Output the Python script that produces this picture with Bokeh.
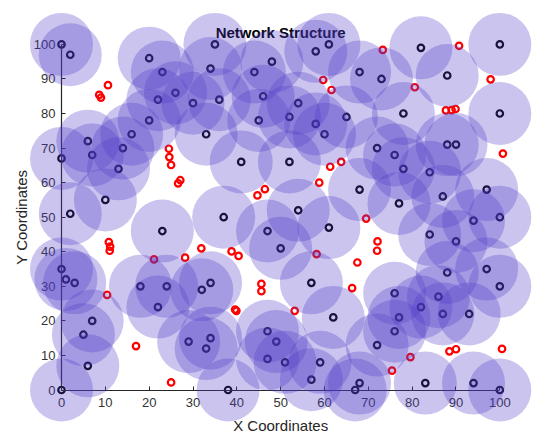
from bokeh.plotting import figure
from bokeh.models import LinearAxis, FixedTicker, Label, Range1d
from bokeh.embed import file_html
from bokeh.resources import INLINE
import math

# Anchor / sensor nodes (black) - each has a coverage circle
node_x = [0, 2, 20, 23, 35, 34, 26, 22, 30, 36, 44, 48, 46, 45, 20, 16, 33, 6, 14, 7, 0, 13, 41, 10, 2, 37,
          58, 61, 68, 73, 82, 100, 88, 54, 52, 58, 65, 60, 78, 100, 88, 90, 72, 76, 78, 84, 52, 68, 77, 87, 97, 54, 94, 100,
          23, 47, 50, 0, 1, 3, 18, 24, 22, 32, 34, 7, 5, 6, 29, 34, 33, 0, 38, 47, 49, 47,
          61, 84, 90, 88, 97, 100, 57, 76, 86, 82, 87, 93, 77, 62, 76, 72, 51, 59, 57, 68, 67, 83, 94, 100]
node_y = [100, 97, 96, 92, 100, 93, 86, 84, 83, 84, 92, 95, 85, 78, 78, 74, 74, 72, 70, 68, 67, 64, 66, 55, 51, 50,
          98, 100, 92, 90, 99, 100, 91, 83, 79, 77, 79, 74, 80, 80, 71, 71, 70, 68, 64, 63, 66, 58, 54, 56, 58, 52, 49, 50,
          46, 46, 41, 35, 32, 31, 30, 30, 24, 29, 31, 20, 16, 7, 14, 15, 12, 0, 0, 17, 14, 9,
          47, 45, 43, 34, 35, 30, 31, 28, 27, 24, 22, 22, 21, 21, 17, 13, 8, 8, 3, 2, 0, 2, 2, 0]

# Unknown nodes (red)
unknown_x = [10.6, 8.6, 9.0, 24.5, 24.6, 25.0, 27.1, 26.6, 44.7, 46.4,
             73.3, 90.7, 59.7, 61.6, 80.6, 97.9, 87.7, 89.0, 89.9, 100.7, 61.3, 63.8, 58.8, 69.5,
             10.8, 11.1, 11.0, 21.1, 28.2, 31.9, 38.8, 40.4, 10.4, 39.6, 39.9, 45.6, 45.6, 17.0, 25.0,
             72.1, 72.0, 67.5, 66.3, 58.2, 53.2, 79.6, 75.4, 88.5, 90.0, 100.5]
unknown_y = [88.2, 85.4, 84.6, 69.8, 67.4, 65.1, 60.7, 59.8, 56.3, 58.1,
             98.4, 99.6, 89.7, 86.8, 87.6, 89.9, 80.9, 81.0, 81.3, 68.4, 64.6, 66.0, 60.0, 49.6,
             42.8, 41.5, 40.3, 37.8, 38.3, 41.0, 40.1, 38.8, 27.5, 23.3, 22.9, 30.7, 28.6, 12.7, 2.2,
             43.0, 40.3, 36.9, 29.5, 39.3, 22.9, 9.5, 5.6, 11.2, 11.8, 11.9]

ticks = [0, 10, 20, 30, 40, 50, 60, 70, 80, 90, 100]

FONT = "Liberation Sans"
AX = "#262626"

p = figure(width=546, height=438, output_backend="svg", toolbar_location=None,
           x_axis_type=None, y_axis_type=None, title=None,
           x_range=Range1d(-13.92, 110.65), y_range=Range1d(-14.03, 112.70),
           min_border=0, min_border_left=0, min_border_right=0,
           min_border_top=0, min_border_bottom=0)
p.outline_line_color = None
p.background_fill_color = "white"
p.border_fill_color = "white"
p.xgrid.visible = False
p.ygrid.visible = False

# nodes (drawn beneath the coverage disks)
p.scatter(node_x, node_y, marker="circle", size=6.5, fill_color=None,
          line_color="black", line_width=2.2)
p.scatter(unknown_x, unknown_y, marker="circle", size=6.5, fill_color=None,
          line_color="red", line_width=2.2)

# axes at the data origin
xax = LinearAxis(fixed_location=0, bounds=(0, 100), ticker=FixedTicker(ticks=ticks))
yax = LinearAxis(fixed_location=0, bounds=(0, 100), ticker=FixedTicker(ticks=ticks))
for ax in (xax, yax):
    ax.axis_line_color = AX
    ax.axis_line_width = 1.2
    ax.major_tick_line_color = AX
    ax.major_tick_in = 4
    ax.major_tick_out = 0
    ax.minor_tick_line_color = None
    ax.major_label_text_font = FONT
    ax.major_label_text_font_size = "13px"
    ax.major_label_text_color = "#333333"
xax.major_label_standoff = 8
yax.major_label_standoff = 6
p.add_layout(xax, "below")
p.add_layout(yax, "left")

# labels
p.add_layout(Label(x=50, y=103.4, text="Network Structure", text_font=FONT,
                   text_font_size="15px", text_font_style="bold", text_color="black",
                   text_align="center", text_baseline="middle"))
p.add_layout(Label(x=50, y=-10.3, text="X Coordinates", text_font=FONT,
                   text_font_size="15px", text_color=AX,
                   text_align="center", text_baseline="middle"))
p.add_layout(Label(x=-9.2, y=50, text="Y Coordinates", text_font=FONT,
                   text_font_size="15px", text_color=AX, angle=math.pi / 2,
                   text_align="center", text_baseline="middle"))

# coverage disks, drawn above everything
disks = p.scatter(node_x, node_y, marker="circle", size=63,
                  fill_color=(80, 60, 200), fill_alpha=0.3, line_color=None)
disks.level = "overlay"

open("out.html", "w").write(file_html(p, INLINE))
